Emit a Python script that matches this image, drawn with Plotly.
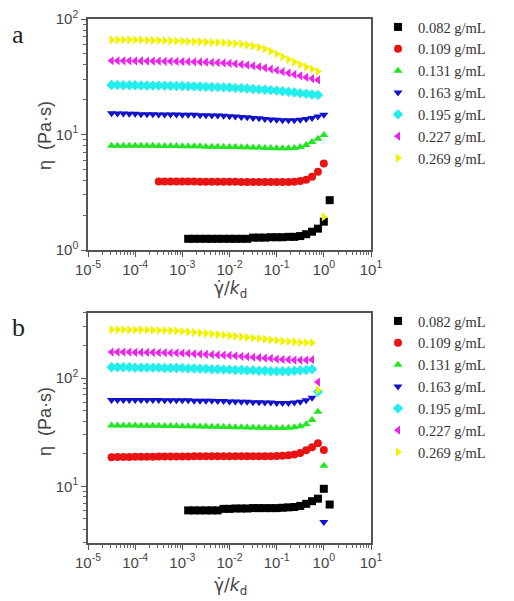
import plotly.graph_objects as go

# shared shear-rate grid (gamma_dot / k_d)
X_GRID = [3.16e-5, 4.22e-5, 5.62e-5, 7.50e-5, 1.00e-4, 1.33e-4, 1.78e-4, 2.37e-4,
          3.16e-4, 4.22e-4, 5.62e-4, 7.50e-4, 1.00e-3, 1.33e-3, 1.78e-3, 2.37e-3,
          3.16e-3, 4.22e-3, 5.62e-3, 7.50e-3, 1.00e-2, 1.33e-2, 1.78e-2, 2.37e-2,
          3.16e-2, 4.22e-2, 5.62e-2, 7.50e-2, 0.100, 0.133, 0.178, 0.237,
          0.316, 0.422, 0.562, 0.750, 1.00, 1.33]

LABELS = ["0.082 g/mL", "0.109 g/mL", "0.131 g/mL", "0.163 g/mL",
          "0.195 g/mL", "0.227 g/mL", "0.269 g/mL"]
COLORS = ["#000000", "#e81414", "#22e622", "#1212cc", "#22eeee", "#ee22ee", "#f2f200"]
SYMBOLS = ["square", "circle", "triangle-up", "triangle-down",
           "diamond", "triangle-left", "triangle-right"]

# ---- panel a ----
A_START = [13, 8, 0, 0, 0, 0, 0]
A_082 = [1.25, 1.25, 1.25, 1.25, 1.25, 1.25, 1.25, 1.25, 1.25, 1.25, 1.25,
         1.28, 1.28, 1.28, 1.29, 1.29, 1.29, 1.30,
         1.30, 1.32, 1.37, 1.44, 1.53, 1.76, 2.7]
A_109 = [3.92, 3.92, 3.92, 3.92, 3.91, 3.91, 3.91, 3.90, 3.90, 3.90, 3.90,
         3.89, 3.89, 3.89, 3.88, 3.88, 3.88, 3.88, 3.87, 3.87, 3.87,
         3.87, 3.88, 3.90, 3.95, 4.05, 4.3, 4.75, 5.6]
A_131 = [8.0, 8.0, 8.0, 8.0, 8.0, 8.0, 8.0, 8.0, 7.95, 7.95, 7.95, 7.95, 7.9,
         7.9, 7.9, 7.9, 7.85, 7.85, 7.85, 7.8, 7.8,
         7.8, 7.75, 7.75, 7.7, 7.7, 7.65, 7.65, 7.6,
         7.6, 7.6, 7.65, 7.8, 8.1, 8.6, 9.2, 9.9]
A_163 = [15.3, 15.2, 15.2, 15.1, 15.1, 15.0, 15.0, 15.0, 14.9, 14.9, 14.9, 14.9, 14.8,
         14.8, 14.8, 14.7, 14.7, 14.6, 14.6, 14.5, 14.4,
         14.3, 14.2, 14.1, 13.9, 13.8, 13.6, 13.5, 13.4,
         13.3, 13.3, 13.3, 13.4, 13.6, 13.9, 14.3, 14.8]
A_195 = [26.8, 26.8, 26.7, 26.7, 26.7, 26.6, 26.6, 26.5, 26.5, 26.4, 26.4, 26.3, 26.3,
         26.2, 26.1, 26.0, 25.9, 25.8, 25.7, 25.6, 25.5,
         25.3, 25.2, 25.0, 24.8, 24.6, 24.4, 24.2, 24.0,
         23.7, 23.4, 23.1, 22.8, 22.5, 22.2, 22.0]
A_227 = [43.5, 43.5, 43.4, 43.4, 43.3, 43.3, 43.2, 43.2, 43.1, 43.0, 43.0, 42.9, 42.8,
         42.7, 42.6, 42.5, 42.3, 42.1, 41.9, 41.6, 41.3,
         40.9, 40.4, 39.9, 39.3, 38.6, 37.8, 36.9, 36.0,
         35.0, 34.0, 33.1, 32.2, 31.3, 30.5, 29.7]
A_269 = [66.0, 66.0, 66.0, 66.0, 66.0, 65.8, 65.6, 65.4, 65.2, 65.0, 64.8, 64.5, 64.2,
         64.0, 63.8, 63.5, 63.2, 62.9, 62.6, 62.3, 61.9,
         61.3, 60.5, 59.5, 58.3, 56.8, 55.0, 52.5, 49.8,
         47.0, 44.5, 42.3, 40.3, 38.5, 36.8, 35.2, 1.94]

# ---- panel b ----
B_START = [13, 0, 0, 0, 0, 0, 0]
B_082 = [6.0, 6.0, 6.0, 6.0, 6.0, 6.0,
         6.2, 6.2, 6.25, 6.25, 6.25, 6.3, 6.3, 6.3, 6.3, 6.3, 6.35, 6.4, 6.45,
         6.6, 6.9, 7.3, 7.7, 9.5, 6.8]
B_109 = [18.6, 18.7, 18.7, 18.7, 18.8, 18.8, 18.8, 18.8, 18.9, 18.9, 18.9, 18.9, 18.9,
         18.9, 19.0, 19.0, 19.0, 19.0, 19.0, 19.0, 19.0,
         19.0, 19.0, 19.0, 19.0, 19.0, 19.0, 19.0, 19.1,
         19.2, 19.4, 19.7, 20.3, 21.6, 23.0, 25.0, 21.7]
B_131 = [36.5, 36.5, 36.5, 36.5, 36.5, 36.4, 36.4, 36.3, 36.3, 36.2, 36.2, 36.1, 36.0,
         36.0, 36.0, 35.8, 35.8, 35.6, 35.6, 35.4, 35.4,
         35.2, 35.2, 35.0, 35.0, 34.8, 34.8, 34.6, 34.6,
         34.6, 34.8, 35.2, 36.0, 37.5, 41.0, 49.0, 15.5]
B_163 = [63, 63, 63, 63, 63, 63, 63, 63, 63, 62.5, 62.5, 62.5, 62.5,
         62.5, 62, 62, 62, 62, 61.5, 61.5, 61,
         61, 60.5, 60.5, 60, 60, 59.5, 59.5, 59,
         59, 59, 59.5, 60.5, 62.5, 66, None, 4.7]
B_195 = [126, 126, 126, 126, 125, 125, 125, 125, 125, 124, 124, 124, 124,
         123, 123, 122, 122, 121, 121, 120, 120,
         119, 119, 118, 118, 117, 117, 116, 116,
         116, 116, 117, 118, 119, 121, 75]
B_227 = [174, 174, 174, 174, 173, 173, 173, 173, 172, 172, 171, 171, 170,
         169, 168, 167, 166, 165, 164, 163, 162,
         161, 159, 158, 156, 155, 153, 152, 150,
         149, 148, 147, 147, 147, 148, 92]
B_269 = [281, 281, 281, 280, 280, 280, 279, 278, 277, 276, 275, 273, 271,
         268, 265, 262, 259, 256, 253, 250, 247,
         244, 241, 238, 235, 232, 229, 226, 223,
         220, 218, 216, 214, 213, 212, 78]

A_SERIES = [A_082, A_109, A_131, A_163, A_195, A_227, A_269]
B_SERIES = [B_082, B_109, B_131, B_163, B_195, B_227, B_269]

X_TICKS = [1e-5, 1e-4, 1e-3, 1e-2, 1e-1, 1e0, 1e1]
X_TICKTEXT = ["10<sup>-5</sup>", "10<sup>-4</sup>", "10<sup>-3</sup>", "10<sup>-2</sup>",
              "10<sup>-1</sup>", "10<sup>0</sup>", "10<sup>1</sup>"]
YA_TICKS = [1, 10, 100]
YA_TICKTEXT = ["10<sup>0</sup>", "10<sup>1</sup>", "10<sup>2</sup>"]
YB_TICKS = [10, 100]
YB_TICKTEXT = ["10<sup>1</sup>", "10<sup>2</sup>"]

W, H = 514, 601
fig = go.Figure()

for series, starts, xa, ya, lg in [(A_SERIES, A_START, "x", "y", "legend"),
                                   (B_SERIES, B_START, "x2", "y2", "legend2")]:
    for k, ys in enumerate(series):
        s = starts[k]
        fig.add_trace(go.Scatter(
            x=X_GRID[s:s + len(ys)], y=ys, mode="markers", name=LABELS[k],
            xaxis=xa, yaxis=ya, legend=lg,
            marker=dict(symbol=SYMBOLS[k], color=COLORS[k], size=8, line=dict(width=0)),
        ))

XL, XR = 88, 371
AT, AB = 19, 250
BT, BB = 313, 543

def xdom():
    return [XL / W, XR / W]

def ydom(top, bot):
    return [1 - bot / H, 1 - top / H]

axis_common = dict(
    type="log", showgrid=False, zeroline=False, automargin=False,
    showline=True, linecolor="#555", linewidth=1.5, mirror=True,
    ticks="outside", ticklen=5, tickwidth=1, tickcolor="#555",
    tickfont=dict(family="Liberation Sans, Arial", size=15, color="#444"),
    minor=dict(ticks="outside", ticklen=3, tickwidth=1, tickcolor="#666", dtick="D1", showgrid=False),
)

legend_common = dict(
    xanchor="left", yanchor="top",
    font=dict(family="Liberation Serif, Times New Roman", size=14.5, color="#333"),
    bgcolor="rgba(0,0,0,0)", itemwidth=30, tracegroupgap=0,
)

fig.update_layout(
    template="none",
    width=W, height=H, margin=dict(l=0, r=0, t=0, b=0, autoexpand=False),
    paper_bgcolor="white", plot_bgcolor="white",
    xaxis=dict(domain=xdom(), anchor="y", range=[-5, 1],
               tickvals=X_TICKS, ticktext=X_TICKTEXT, **axis_common),
    yaxis=dict(domain=ydom(AT, AB), anchor="x", range=[0, 2],
               tickvals=YA_TICKS, ticktext=YA_TICKTEXT, **axis_common),
    xaxis2=dict(domain=xdom(), anchor="y2", range=[-5, 1],
                tickvals=X_TICKS, ticktext=X_TICKTEXT, **axis_common),
    yaxis2=dict(domain=ydom(BT, BB), anchor="x2", range=[0.477, 2.602],
                tickvals=YB_TICKS, ticktext=YB_TICKTEXT, **axis_common),
    legend=dict(x=378 / W, y=1 - 11 / H, **legend_common),
    legend2=dict(x=378 / W, y=1 - 305 / H, **legend_common),
    showlegend=True,
)

ann_font = dict(family="DejaVu Sans, Liberation Sans, Arial", size=17, color="#444")
serif_big = dict(family="Liberation Serif, Times New Roman", size=26, color="#222")
XTITLE = "\u03b3\u0307/<i>k</i><sub>d</sub>"
annotations = [
    dict(text="a", x=18 / W, y=1 - 35 / H, font=serif_big),
    dict(text="b", x=18 / W, y=1 - 327 / H, font=serif_big),
    dict(text="η\u00a0 (Pa·s)", x=45 / W, y=1 - 136 / H, textangle=-90,
         font=dict(family="Liberation Sans, Arial", size=18, color="#444")),
    dict(text="η\u00a0 (Pa·s)", x=45 / W, y=1 - 422 / H, textangle=-90,
         font=dict(family="Liberation Sans, Arial", size=18, color="#444")),
    dict(text=XTITLE, x=230 / W, y=1 - 289 / H, font=ann_font),
    dict(text=XTITLE, x=230 / W, y=1 - 586 / H, font=ann_font),
]
for a in annotations:
    a.update(xref="paper", yref="paper", showarrow=False, xanchor="center", yanchor="middle")
fig.update_layout(annotations=annotations)

fig.write_html("out.html", config={"displayModeBar": False},
               post_script="document.body.style.margin='0px';document.body.style.overflow='hidden';")
